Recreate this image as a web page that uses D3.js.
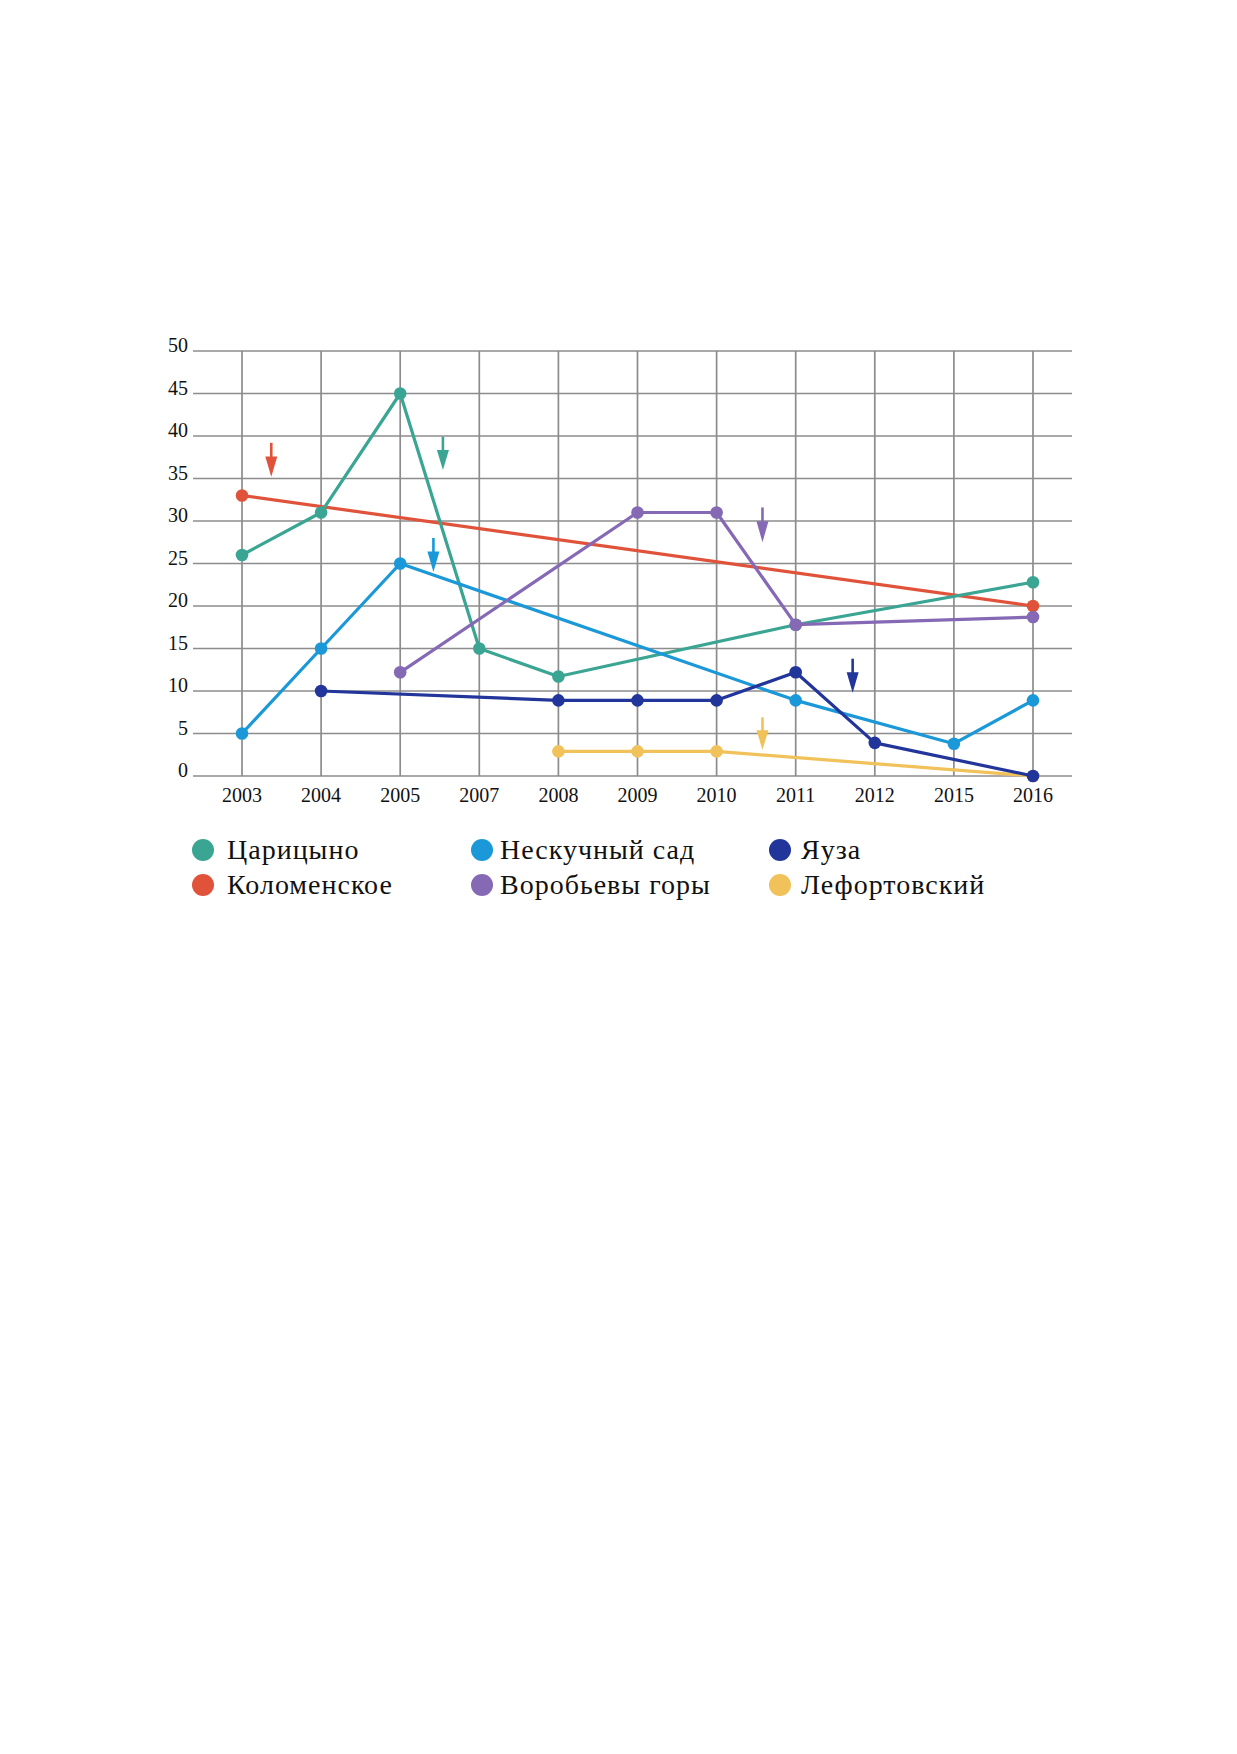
<!DOCTYPE html>
<html>
<head>
<meta charset="utf-8">
<script src="https://cdn.jsdelivr.net/npm/d3@7"></script>
<style>
  body { margin: 0; background: #fff; }
  svg { display: block; }
  text { font-family: "Liberation Serif", "Times New Roman", serif; fill: #111; }
</style>
</head>
<body>
<svg id="chart"></svg>
<script>
const years = ["2003", "2004", "2005", "2007", "2008", "2009", "2010", "2011", "2012", "2015", "2016"];
const yTicks = [0, 5, 10, 15, 20, 25, 30, 35, 40, 45, 50];

const tsaritsyno = [26, 31, 45, 15, 11.7, null, null, 17.8, null, null, 22.8];
const kolomenskoe = [33, null, null, null, null, null, null, null, null, null, 20];
const neskuchny = [5, 15, 25, null, null, null, null, 8.9, null, 3.8, 8.9];
const vorobyovy = [null, null, 12.2, null, null, 31, 31, 17.8, null, null, 18.7];
const yauza = [null, 10, null, null, 8.9, 8.9, 8.9, 12.2, 3.9, null, 0];
const lefortovo = [null, null, null, null, 2.9, 2.9, 2.9, null, null, null, 0];

const names = ["Царицыно", "Коломенское", "Нескучный сад", "Воробьевы горы", "Яуза", "Лефортовский"];
const colors = ["#3aa592", "#e0533a", "#1a98d8", "#8669b5", "#22359a", "#f1c15a"];

// arrows: year, shift towards next year (fraction), from/to values
const arrows = [
    { s: 1, year: "2003", shift: 0.37, from: 39.2, to: 35.2 },
    { s: 0, year: "2005", shift: 0.54, from: 39.9, to: 36 },
    { s: 2, year: "2005", shift: 0.42, from: 28, to: 24 },
    { s: 3, year: "2010", shift: 0.58, from: 31.6, to: 27.5 },
    { s: 4, year: "2011", shift: 0.72, from: 13.8, to: 9.8 },
    { s: 5, year: "2010", shift: 0.58, from: 6.9, to: 3.1 }
];

const width = 1237;
const height = 1754;

const svg = d3.select("#chart")
    .attr("width", width)
    .attr("height", height);

const x = d3.scalePoint()
    .domain(years)
    .range([242, 1033]);

const y = d3.scaleLinear()
    .domain([0, 50])
    .range([776, 351]);

const gridLeft = 193;
const gridRight = 1072;

// grid
svg.append("g")
    .selectAll("line")
    .data(yTicks)
    .join("line")
    .attr("x1", gridLeft)
    .attr("x2", gridRight)
    .attr("y1", d => y(d))
    .attr("y2", d => y(d))
    .attr("stroke", "#8c8c8c")
    .attr("stroke-width", 1.7);

svg.append("g")
    .selectAll("line")
    .data(years)
    .join("line")
    .attr("x1", d => x(d))
    .attr("x2", d => x(d))
    .attr("y1", y(50))
    .attr("y2", y(0))
    .attr("stroke", "#8c8c8c")
    .attr("stroke-width", 1.7);

// axis labels
svg.append("g")
    .selectAll("text")
    .data(yTicks)
    .join("text")
    .attr("x", 188)
    .attr("y", d => y(d) + 1)
    .attr("text-anchor", "end")
    .style("font-size", "20px")
    .text(d => d);

svg.append("g")
    .selectAll("text")
    .data(years)
    .join("text")
    .attr("x", d => x(d))
    .attr("y", 802)
    .attr("text-anchor", "middle")
    .style("font-size", "20px")
    .text(d => d);

// series
const series = [tsaritsyno, kolomenskoe, neskuchny, vorobyovy, yauza, lefortovo];
const drawOrder = [5, 1, 0, 2, 3, 4];

const line = d3.line()
    .x(d => x(d.year))
    .y(d => y(d.value));

drawOrder.forEach(i => {
    const pts = years
        .map((yr, j) => ({ year: yr, value: series[i][j] }))
        .filter(d => d.value !== null);

    svg.append("path")
        .datum(pts)
        .attr("d", line)
        .attr("fill", "none")
        .attr("stroke", colors[i])
        .attr("stroke-width", 3.2)
        .attr("stroke-linejoin", "round");

    svg.append("g")
        .selectAll("circle")
        .data(pts)
        .join("circle")
        .attr("cx", d => x(d.year))
        .attr("cy", d => y(d.value))
        .attr("r", 6.3)
        .attr("fill", colors[i]);
});

// arrows
const step = x.step();
arrows.forEach(a => {
    const ax = x(a.year) + a.shift * step;
    const y0 = y(a.from);
    const y1 = y(a.to);
    const headLen = (y1 - y0) * 0.6;
    svg.append("line")
        .attr("x1", ax)
        .attr("x2", ax)
        .attr("y1", y0)
        .attr("y2", y1 - headLen + 1)
        .attr("stroke", colors[a.s])
        .attr("stroke-width", 2.6);
    svg.append("path")
        .attr("d", `M${ax - 6},${y1 - headLen} L${ax + 6},${y1 - headLen} L${ax},${y1} Z`)
        .attr("fill", colors[a.s]);
});

// legend
const legendCols = [203, 482, 780];
const legendRows = [850, 885];
const legendGap = [24, 18, 21];
names.forEach((name, i) => {
    const col = Math.floor(i / 2);
    const row = i % 2;
    const g = svg.append("g")
        .attr("transform", `translate(${legendCols[col]}, ${legendRows[row]})`);
    g.append("circle")
        .attr("r", 11)
        .attr("fill", colors[i]);
    g.append("text")
        .attr("x", legendGap[col])
        .attr("y", 9)
        .style("font-size", "28px")
        .style("letter-spacing", "1px")
        .text(name);
});
</script>
</body>
</html>
